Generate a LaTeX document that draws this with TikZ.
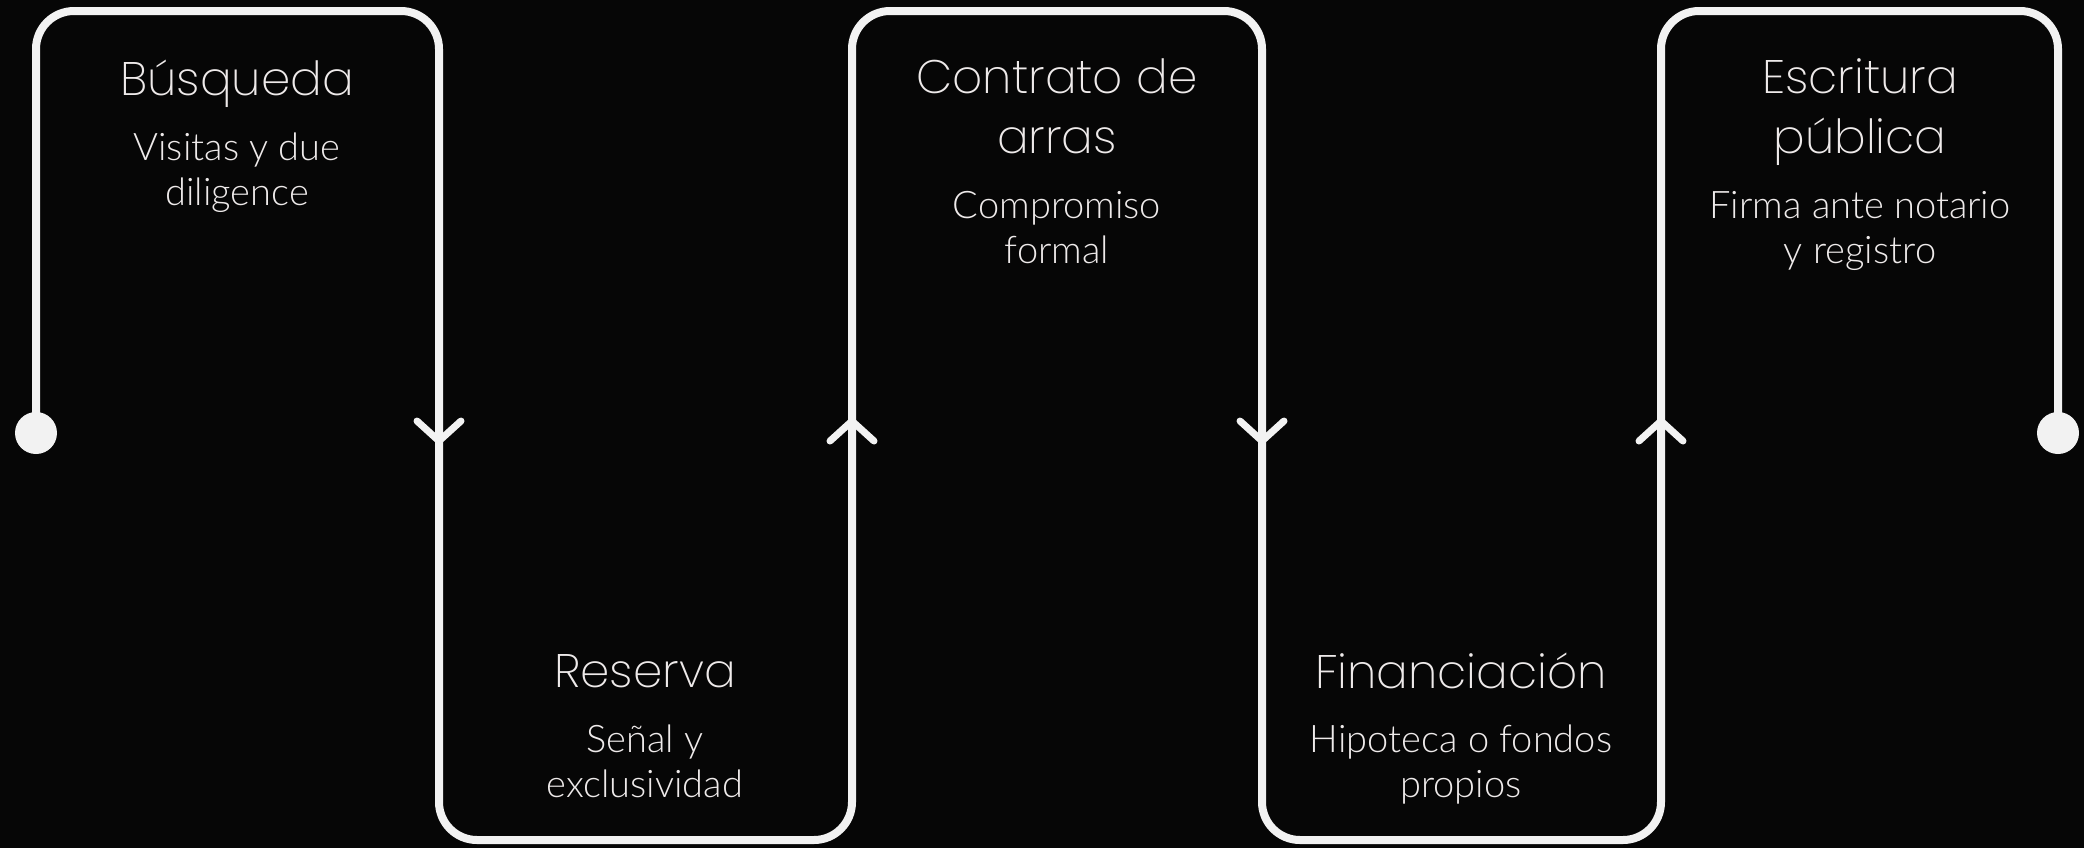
\documentclass[tikz,border=0pt]{standalone}
\usepackage{fontspec}
\newfontfamily\titlefont{Poppins ExtraLight}
\newfontfamily\subfont{Lato Light}
\definecolor{bgdark}{HTML}{060606}
\definecolor{linewhite}{HTML}{F2F2F2}
\definecolor{textwhite}{HTML}{EEEAEA}
\tikzset{
  steptitle/.style={text=textwhite, align=center, anchor=base, inner sep=0pt,
    font=\titlefont\fontsize{23.5}{30}\selectfont},
  stepsub/.style={text=textwhite, align=center, anchor=base, inner sep=0pt,
    font=\subfont\fontsize{19}{22.5}\selectfont},
  track/.style={draw=linewhite, line width=4pt, rounded corners=19pt},
  chevron/.style={draw=linewhite, line width=3.5pt, line cap=round, line join=round},
  enddot/.style={circle, fill=linewhite, minimum size=21pt, inner sep=0pt}
}

\begin{document}
\begin{tikzpicture}[x=0.5pt, y=-0.5pt]
            \def \topy {11}
            \def \boty {840}
            \def \midy {431}

            \fill[bgdark] (0,0) rectangle (2084,848);
            \useasboundingbox (0,0) rectangle (2084,848);

            % the winding track
            \coordinate (start) at (36,433);
            \coordinate (finish) at (2058,433);
            \draw[track] (start) -- (36,\topy) -- (439,\topy) -- (439,\boty)
              -- (852,\boty) -- (852,\topy) -- (1262,\topy) -- (1262,\boty)
              -- (1661,\boty) -- (1661,\topy) -- (2058,\topy) -- (finish);
            \node[enddot] (startdot) at (start) {};
            \node[enddot] (finishdot) at (finish) {};

            % direction marks, 1 = down, -1 = up
            \foreach \x/\d in {439/1, 852/-1, 1262/1, 1661/-1}
              \draw[chevron] (\x-22, \midy-10*\d) -- (\x, \midy+10*\d)
                -- (\x+22, \midy-10*\d);

            % texts sit on the baseline of their last line
            \node[steptitle] (busqueda) at (237,95) {Búsqueda};
            \node[stepsub] (busquedasub) at (237,205) {Visitas y due\\diligence};

            \node[steptitle] (reserva) at (645,687) {Reserva};
            \node[stepsub] (reservasub) at (645,797) {Señal y\\exclusividad};

            \node[steptitle] (arras) at (1057,153) {Contrato de\\arras};
            \node[stepsub] (arrassub) at (1057,263) {Compromiso\\formal};

            \node[steptitle] (financiacion) at (1461,688) {Financiación};
            \node[stepsub] (financiacionsub) at (1461,797) {Hipoteca o fondos\\propios};

            \node[steptitle] (escritura) at (1860,153) {Escritura\\pública};
            \node[stepsub] (escriturasub) at (1860,263) {Firma ante notario\\y registro};
          \end{tikzpicture}
\end{document}
